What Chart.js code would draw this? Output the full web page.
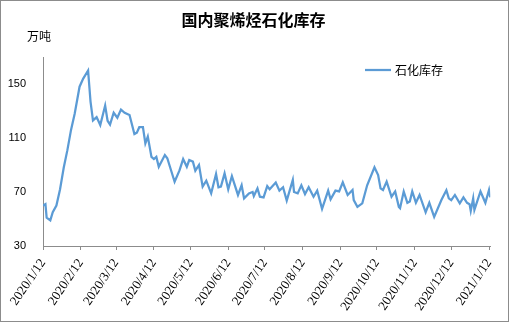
<!DOCTYPE html>
<html>
<head>
<meta charset="utf-8">
<script src="https://cdn.jsdelivr.net/npm/chart.js@4"></script>
<style>
  html, body { margin: 0; padding: 0; background: #fff; }
  #wrap { width: 509px; height: 322px; box-sizing: border-box; border: 1px solid #8c8c8c; }
  #stockChart { display: block; }
</style>
</head>
<body>
<div id="wrap"><canvas id="stockChart" width="507" height="320"></canvas></div>
<script>
const dates = [
  '2020-01-12', '2020-01-14', '2020-01-15', '2020-01-18', '2020-01-20', '2020-01-23', '2020-01-26', '2020-01-29',
  '2020-02-01', '2020-02-04', '2020-02-07', '2020-02-11', '2020-02-14', '2020-02-18', '2020-02-20', '2020-02-22',
  '2020-02-25', '2020-02-28', '2020-03-03', '2020-03-05', '2020-03-07', '2020-03-10', '2020-03-13', '2020-03-16',
  '2020-03-19', '2020-03-23', '2020-03-27', '2020-03-29', '2020-03-31', '2020-04-03', '2020-04-05', '2020-04-07',
  '2020-04-10', '2020-04-12', '2020-04-14', '2020-04-16', '2020-04-21', '2020-04-23', '2020-04-26', '2020-04-29',
  '2020-05-03', '2020-05-06', '2020-05-09', '2020-05-11', '2020-05-14', '2020-05-16', '2020-05-19', '2020-05-22',
  '2020-05-25', '2020-05-29', '2020-06-02', '2020-06-04', '2020-06-06', '2020-06-09', '2020-06-12', '2020-06-15',
  '2020-06-20', '2020-06-23', '2020-06-25', '2020-06-29', '2020-07-02', '2020-07-03', '2020-07-06', '2020-07-08',
  '2020-07-11', '2020-07-14', '2020-07-16', '2020-07-21', '2020-07-24', '2020-07-27', '2020-07-30', '2020-08-04',
  '2020-08-05', '2020-08-08', '2020-08-11', '2020-08-14', '2020-08-17', '2020-08-21', '2020-08-24', '2020-08-28',
  '2020-09-02', '2020-09-04', '2020-09-08', '2020-09-11', '2020-09-14', '2020-09-18', '2020-09-22', '2020-09-23',
  '2020-09-26', '2020-09-30', '2020-10-04', '2020-10-10', '2020-10-13', '2020-10-15', '2020-10-17', '2020-10-20',
  '2020-10-24', '2020-10-27', '2020-10-30', '2020-10-31', '2020-11-03', '2020-11-06', '2020-11-08', '2020-11-10',
  '2020-11-13', '2020-11-16', '2020-11-21', '2020-11-24', '2020-11-28', '2020-12-04', '2020-12-08', '2020-12-10',
  '2020-12-12', '2020-12-15', '2020-12-19', '2020-12-22', '2020-12-25', '2020-12-27', '2020-12-28', '2020-12-30',
  '2020-12-31', '2021-01-05', '2021-01-09', '2021-01-12', '2021-01-13'
];

// 石化库存, 万吨
const stock = [
  60, 61, 51, 49, 55, 60, 72, 88,
  101, 116, 128, 148, 154, 160, 137, 123,
  125.5, 119.6, 134, 122.8, 120, 128.7, 125, 131,
  128.7, 127, 113, 114, 118, 118, 106, 111,
  96, 94.4, 96, 88.7, 97.4, 95, 86.3, 77.6,
  86, 94.4, 88.7, 93.7, 92.5, 85.8, 90, 74,
  78.4, 69, 83.3, 73.5, 74, 83.8, 72, 81.8,
  67.8, 75, 65.3, 69, 70, 67, 72.7, 66.5,
  66, 74.4, 72, 77, 71, 73.5, 63.6, 79,
  70, 69, 75, 68.5, 73.5, 66.5, 71, 57.5,
  71, 64.6, 71, 70.4, 77.2, 67.8, 71.5, 64,
  59, 61.6, 75, 88.3, 82.6, 72.7, 71.5, 77.7,
  66.5, 70.4, 59, 58, 70.4, 62, 63, 70.4,
  62, 67.8, 55, 62, 51.5, 64.3, 71.3, 65.3,
  64, 67.8, 61.6, 66, 62, 61, 56, 65.3,
  56.7, 70.4, 62, 71.5, 66
];

const xTickLabels = [
  '2020/1/12', '2020/2/12', '2020/3/12', '2020/4/12', '2020/5/12', '2020/6/12', '2020/7/12',
  '2020/8/12', '2020/9/12', '2020/10/12', '2020/11/12', '2020/12/12', '2021/1/12'
];
const yTicks = [30, 70, 110, 150];

const seriesName = '石化库存';
const lineColor = '#5B9BD5';

// day count from the first date, so the x axis keeps real calendar spacing
const origin = Date.UTC(2020, 0, 12);
function dayOf(y, m, d) {
  return Math.round((Date.UTC(y, m - 1, d) - origin) / 86400000);
}
const points = dates.map((s, i) => {
  const p = s.split('-').map(Number);
  return { x: dayOf(p[0], p[1], p[2]), y: stock[i] };
});
const tickDays = xTickLabels.map(s => {
  const p = s.split('/').map(Number);
  return dayOf(p[0], p[1], p[2]);
});

const headerPlugin = {
  id: 'header',
  afterDraw(chart) {
    const ctx = chart.ctx;
    ctx.save();
    ctx.fillStyle = '#000';
    ctx.textBaseline = 'middle';
    ctx.font = 'bold 16px "Noto Sans CJK SC"';
    ctx.textAlign = 'center';
    ctx.fillText('国内聚烯烃石化库存', chart.width / 2 - 1, 19);
    ctx.font = '12px "Noto Sans CJK SC"';
    ctx.textAlign = 'left';
    ctx.fillText('万吨', 26, 35);

    // legend
    const lx = 364, ly = 69;
    ctx.strokeStyle = lineColor;
    ctx.lineWidth = 2.25;
    ctx.beginPath();
    ctx.moveTo(lx, ly);
    ctx.lineTo(lx + 26, ly);
    ctx.stroke();
    ctx.fillText(seriesName, lx + 30, ly);
    ctx.restore();
  }
};

new Chart(document.getElementById('stockChart'), {
  type: 'line',
  data: {
    datasets: [{
      label: seriesName,
      data: points,
      borderColor: lineColor,
      borderWidth: 2.25,
      pointRadius: 0,
      tension: 0,
      fill: false
    }]
  },
  options: {
    responsive: false,
    animation: false,
    layout: { padding: { top: 56, right: 17, left: 0, bottom: 0 } },
    plugins: {
      legend: { display: false },
      tooltip: { enabled: false }
    },
    scales: {
      x: {
        type: 'linear',
        min: 0,
        max: points[points.length - 1].x,
        afterBuildTicks(scale) {
          scale.ticks = tickDays.map(v => ({ value: v }));
        },
        afterFit(scale) {
          scale.height = 75;
        },
        grid: { display: true, drawOnChartArea: false, drawTicks: true, tickLength: 4, color: '#8c8c8c' },
        border: { display: true, color: '#8c8c8c', width: 1 },
        ticks: {
          autoSkip: false,
          minRotation: 56,
          maxRotation: 56,
          padding: 6,
          color: '#000',
          font: { family: '"Liberation Serif"', size: 13 },
          callback(value) {
            const i = tickDays.indexOf(value);
            return i >= 0 ? xTickLabels[i] : '';
          }
        }
      },
      y: {
        min: 30,
        max: 170,
        afterBuildTicks(scale) {
          scale.ticks = yTicks.map(v => ({ value: v }));
        },
        afterFit(scale) {
          scale.width = 42;
        },
        grid: { display: false, drawTicks: false },
        border: { display: true, color: '#8c8c8c', width: 1 },
        ticks: {
          padding: 17,
          color: '#000',
          font: { family: '"Liberation Sans"', size: 11 }
        }
      }
    }
  },
  plugins: [headerPlugin]
});
</script>
</body>
</html>
